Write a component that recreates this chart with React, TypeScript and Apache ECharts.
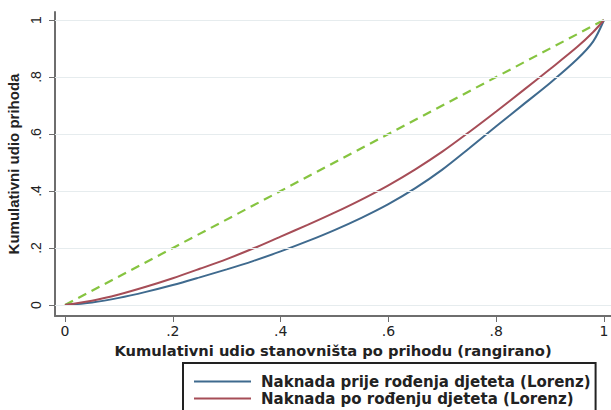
import React, { useEffect, useRef } from "react";
import * as echarts from "echarts";

const xs = [0, 0.05, 0.1, 0.15, 0.2, 0.25, 0.3, 0.35, 0.4, 0.45, 0.5, 0.55, 0.6, 0.65, 0.7, 0.75, 0.8, 0.85, 0.9, 0.95, 0.98, 1];
const beforeBirth = [0, 0.009, 0.025, 0.046, 0.07, 0.097, 0.125, 0.155, 0.188, 0.224, 0.263, 0.306, 0.354, 0.41, 0.475, 0.55, 0.627, 0.703, 0.779, 0.862, 0.925, 1];
const afterBirth = [0, 0.015, 0.037, 0.064, 0.094, 0.127, 0.161, 0.199, 0.24, 0.281, 0.324, 0.37, 0.42, 0.476, 0.538, 0.607, 0.679, 0.753, 0.828, 0.905, 0.958, 1];
const equalityX = [0, 1];
const equalityY = [0, 1];
const tickValues = [0, 0.2, 0.4, 0.6, 0.8, 1];
const tickLabels = ["0", ".2", ".4", ".6", ".8", "1"];
const seriesNames = [
  "Naknada prije rođenja djeteta (Lorenz)",
  "Naknada po rođenju djeteta (Lorenz)",
];
const xTitle = "Kumulativni udio stanovništa po prihodu (rangirano)";
const yTitle = "Kumulativni udio prihoda";

const X_MIN = -10 / 539;
const X_MAX = 546 / 539;
const Y_MIN = -11 / 285;
const Y_MAX = 293 / 285;

const FONT = "'Liberation Sans', Arial, sans-serif";
const WIDE = "'DejaVu Sans', sans-serif";
const AXIS = "#6e6e6e";

export default function App() {
  const ref = useRef<HTMLDivElement>(null);
  useEffect(() => {
    if (!ref.current) return;
    const chart = echarts.init(ref.current, null, { renderer: "svg" });
    const fmt = (v: number) => {
      const i = tickValues.findIndex((t) => Math.abs(t - v) < 1e-9);
      return i >= 0 ? tickLabels[i] : "";
    };
    chart.setOption({
      animation: false,
      backgroundColor: "#ffffff",
      grid: { left: 55, right: 0, top: 12, bottom: 94, containLabel: false, outerBoundsMode: "none" },
      xAxis: {
        type: "value",
        min: X_MIN,
        max: X_MAX,
        name: xTitle,
        nameLocation: "middle",
        nameGap: 19,
        nameTextStyle: { fontFamily: WIDE, fontSize: 14.7, fontWeight: "bold", color: "#222" },
        axisLine: { show: true, onZero: false, lineStyle: { color: AXIS, width: 2 } },
        axisTick: { show: true, customValues: tickValues, length: 6, lineStyle: { color: AXIS, width: 1 } },
        axisLabel: { customValues: tickValues, formatter: fmt, fontFamily: WIDE, fontSize: 14, color: "#222", margin: 8 },
        splitLine: { show: false },
      },
      yAxis: {
        type: "value",
        min: Y_MIN,
        max: Y_MAX,
        name: yTitle,
        nameLocation: "middle",
        nameGap: 28,
        nameTextStyle: { fontFamily: FONT, fontSize: 15, fontWeight: "bold", color: "#222" },
        axisLine: { show: true, onZero: false, lineStyle: { color: AXIS, width: 2 } },
        axisTick: { show: true, customValues: tickValues, length: 6, lineStyle: { color: AXIS, width: 1 } },
        axisLabel: { customValues: tickValues, formatter: fmt, rotate: 90, fontFamily: FONT, fontSize: 14, color: "#222", margin: 12 },
        splitLine: { show: false },
      },
      legend: {
        show: true,
        orient: "vertical",
        left: 183,
        top: 363,
        height: 40,
        data: seriesNames,
        icon: "rect",
        itemWidth: 57,
        itemHeight: 2,
        itemGap: 0,
        padding: [10, 5, 30, 11],
        borderColor: "#222",
        borderWidth: 2,
        borderRadius: 0,
        backgroundColor: "#fff",
        textStyle: { fontFamily: WIDE, fontSize: 15, fontWeight: "bold", color: "#222", lineHeight: 17, padding: [0, 0, 0, 5] },
      },
      series: [
        {
          type: "line",
          name: "grid",
          data: [],
          silent: true,
          markLine: {
            silent: true,
            symbol: "none",
            label: { show: false },
            lineStyle: { color: "#e6ecee", width: 1, type: "solid" },
            data: tickValues.map((v) => ({ yAxis: v })),
          },
        },
        {
          type: "line",
          name: "yaxisline",
          data: [],
          silent: true,
          clip: false,
          z: 10,
          markLine: {
            silent: true,
            symbol: "none",
            label: { show: false },
            lineStyle: { color: AXIS, width: 2, type: "solid" },
            data: [{ xAxis: X_MIN }],
          },
        },
        {
          type: "line",
          name: "equality",
          data: equalityX.map((x, i) => [x, equalityY[i]]),
          symbol: "none",
          lineStyle: { color: "#86c440", width: 2.2, type: [9, 6] },
          z: 3,
        },
        {
          type: "line",
          name: seriesNames[0],
          data: xs.map((x, i) => [x, beforeBirth[i]]),
          symbol: "none",
          smooth: 0.3,
          lineStyle: { color: "#3f6a8e", width: 2 },
          itemStyle: { color: "#3f6a8e" },
          z: 4,
        },
        {
          type: "line",
          name: seriesNames[1],
          data: xs.map((x, i) => [x, afterBirth[i]]),
          symbol: "none",
          smooth: 0.3,
          lineStyle: { color: "#a64d57", width: 2 },
          itemStyle: { color: "#a64d57" },
          z: 4,
        },
      ],
    });
    return () => chart.dispose();
  }, []);
  return <div ref={ref} style={{ width: 611, height: 410, position: "absolute", left: 0, top: 0 }} />;
}
